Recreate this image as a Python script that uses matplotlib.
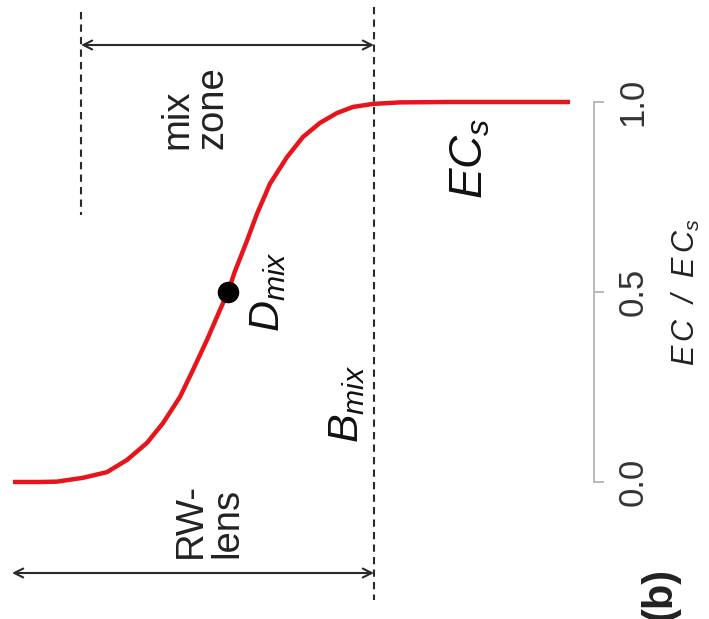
import matplotlib
matplotlib.use("Agg")
import matplotlib.pyplot as plt

plt.rcParams['font.family'] = ['Liberation Sans', 'DejaVu Sans']
plt.rcParams['mathtext.fontset'] = 'custom'
plt.rcParams['mathtext.rm'] = 'Liberation Sans'
plt.rcParams['mathtext.it'] = 'Liberation Sans:italic'
plt.rcParams['mathtext.bf'] = 'Liberation Sans:bold'

# ---- data (horizontal position along the profile, EC/ECs value) ----
depth = [13, 40, 57, 83, 107, 127, 147, 163, 180, 193, 207, 220, 228, 235,
         247, 257, 270, 287, 303, 320, 337, 353, 373, 400, 450, 570]
ec_ratio = [0.0, 0.0, 0.001, 0.011, 0.026, 0.058, 0.103, 0.155, 0.224, 0.295,
            0.374, 0.453, 0.5, 0.555, 0.635, 0.706, 0.785, 0.855, 0.908, 0.945,
            0.971, 0.987, 0.995, 0.999, 1.0, 1.0]
dmix_depth = [228]
dmix_value = [0.5]
tick_values = [0.0, 0.5, 1.0]
tick_labels = ['0.0', '0.5', '1.0']
mixzone_edges = [81, 374]
rwlens_edges = [12, 374]

W, H = 709, 619
fig = plt.figure(figsize=(W / 100, H / 100), dpi=100)
ax = fig.add_axes([0, 0, 1, 1])

# vertical pixel -> value mapping (value 0 at px 482, value 1 at px 102)
def v(py):
    return (482 - py) / 380.0

ax.set_xlim(0, W)
ax.set_ylim(v(H), v(0))

for s in ['top', 'bottom', 'left']:
    ax.spines[s].set_visible(False)
ax.spines['right'].set_position(('data', 594))
ax.spines['right'].set_bounds(0, 1)
ax.spines['right'].set_color('#b5b5b5')
ax.spines['right'].set_linewidth(1.3)
ax.set_xticks([])
ax.yaxis.tick_right()
ax.set_yticks(tick_values)
ax.set_yticklabels(tick_labels, rotation=90, va='center')
ax.tick_params(axis='y', direction='out', length=7, width=1.3, color='#b5b5b5',
               labelsize=25, labelcolor='#333333', pad=9)

ink = '#2a2a2a'
dash = (0, (3.5, 2.5))
# dashed vertical boundary lines
ax.plot([mixzone_edges[1], mixzone_edges[1]], [v(7), v(600)], color=ink, lw=1.5, ls=dash)
ax.plot([mixzone_edges[0], mixzone_edges[0]], [v(12), v(215)], color=ink, lw=1.5, ls=dash)

# arrows
ax.annotate('', xy=(mixzone_edges[0], v(45)), xytext=(mixzone_edges[1], v(45)),
            arrowprops=dict(arrowstyle='<->', color=ink, lw=1.5, shrinkA=0, shrinkB=0,
                            mutation_scale=16))
ax.annotate('', xy=(rwlens_edges[0], v(573)), xytext=(rwlens_edges[1], v(573)),
            arrowprops=dict(arrowstyle='<->', color=ink, lw=1.5, shrinkA=0, shrinkB=0,
                            mutation_scale=16))

# curve
ax.plot(depth, ec_ratio, color='#e8141c', lw=3.2, solid_capstyle='butt',
        solid_joinstyle='round', zorder=3)
ax.plot(dmix_depth, dmix_value, 'o', color='black', ms=14.5, zorder=4)

# texts
ax.text(195, v(108), 'mix\nzone', rotation=90, ha='center', va='center',
        multialignment='left', fontsize=27.5, color='#222222', linespacing=1.0)
ax.text(209, v(520), 'RW-\nlens', rotation=90, ha='center', va='center',
        multialignment='left', fontsize=27.5, color='#222222', linespacing=1.0)
ax.text(471, v(158), r'$EC_s$', rotation=90, ha='center', va='center',
        fontsize=33, color='#111111')
ax.text(268, v(292), r'$D_{mix}$', rotation=90, ha='center', va='center',
        fontsize=31, color='#111111')
ax.text(347, v(404), r'$B_{mix}$', rotation=90, ha='center', va='center',
        fontsize=31, color='#111111')
ax.text(686, v(292), r'$E\,C$  /  $E\,C_s$', rotation=90, ha='center', va='center',
        fontsize=22, color='#222222', fontstyle='italic')
ax.text(660, v(567), '(b)', rotation=90, ha='center', va='top',
        fontsize=30, fontweight='bold', color='#222222')

fig.savefig('out.png', dpi=100)
